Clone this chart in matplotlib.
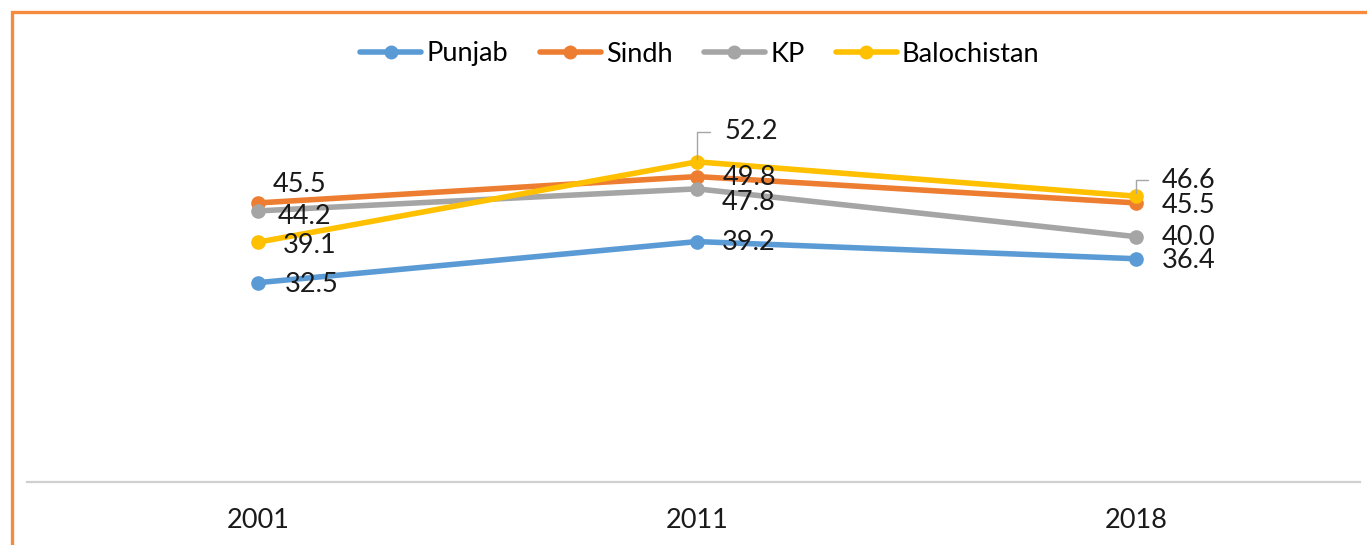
import matplotlib
matplotlib.use("Agg")
import matplotlib.pyplot as plt
from matplotlib.patches import Rectangle

years = ["2001", "2011", "2018"]
series_names = ["Punjab", "Sindh", "KP", "Balochistan"]
punjab = [32.5, 39.2, 36.4]
sindh = [45.5, 49.8, 45.5]
kp = [44.2, 47.8, 40.0]
balochistan = [39.1, 52.2, 46.6]

colors = ["#5B9BD5", "#ED7D31", "#A5A5A5", "#FFC000"]
# label offsets in pixels (dx right, dy up) for each series / point
label_offsets = [
    [(27, -2), (25, -1), (26, -2)],
    [(15, 18), (26, -1), (26, -3)],
    [(20, -6), (25, -14), (26, -1)],
    [(25, -3), (27, 30), (26, 16)],
]
leader = [[False, False, False], [False, False, False],
          [False, False, False], [False, True, True]]

plt.rcParams['font.family'] = ['Lato', 'DejaVu Sans']
FS = 19.5

W, H = 1367, 545
fig = plt.figure(figsize=(W / 100, H / 100), dpi=100)
ax = fig.add_axes([27 / W, 1 - 482 / H, (1360 - 27) / W, (482 - 114) / H])

data = [punjab, sindh, kp, balochistan]
x = list(range(len(years)))
for name, vals, c in zip(series_names, data, colors):
    ax.plot(x, vals, color=c, lw=4.0, marker='o', ms=9.5, label=name,
            solid_capstyle='round')

for vals, offs, lds in zip(data, label_offsets, leader):
    for xi, v, (dx, dy), ld in zip(x, vals, offs, lds):
        kw = dict(xy=(xi, v), xytext=(dx, dy), textcoords='offset pixels',
                  ha='left', va='center', fontsize=FS, color='#1a1a1a')
        if ld:
            kw['arrowprops'] = dict(arrowstyle='-', color='#A6A6A6', lw=1,
                                    connectionstyle='angle,angleA=0,angleB=90,rad=0',
                                    relpos=(0, 0.5), shrinkA=8, shrinkB=2)
        ax.annotate(f"{v:.1f}", **kw)

ax.set_xlim(-0.526, 2.51)
ax.set_ylim(0, 60)
ax.set_xticks(x)
ax.set_xticklabels(years, fontsize=FS, color='#1a1a1a')
ax.set_yticks([])
ax.tick_params(axis='x', length=0, pad=19)
for s in ['top', 'right', 'left']:
    ax.spines[s].set_visible(False)
ax.spines['bottom'].set_color('#D0D0D0')
ax.spines['bottom'].set_linewidth(1.6)

leg = fig.legend(loc='center', bbox_to_anchor=(700 / W, 1 - 54 / H), ncol=4,
                 frameon=False, fontsize=FS, handlelength=2.25,
                 handletextpad=0.2, columnspacing=1.15, markerscale=0.95)

fig.patches.append(Rectangle((12 / W, -0.2), 1.2, 1.2 - 12 / H,
                             transform=fig.transFigure, fill=False,
                             edgecolor='#F68B3F', lw=2.4))

fig.savefig("out.png", dpi=100)
